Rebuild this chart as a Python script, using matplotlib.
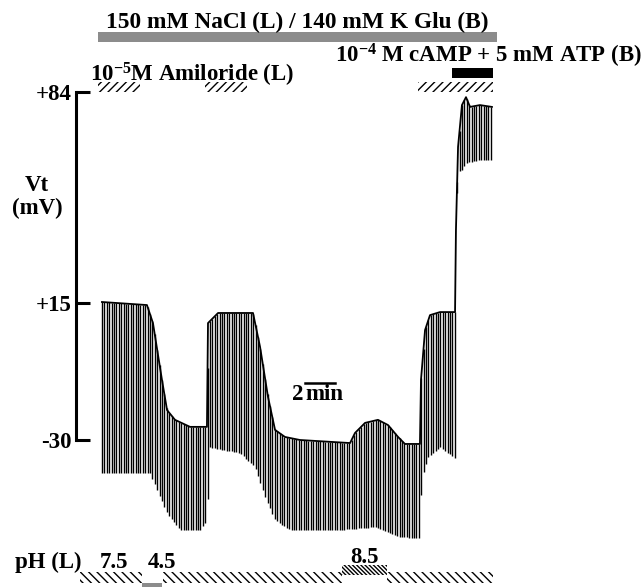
import numpy as np
import matplotlib
matplotlib.use('Agg')
import matplotlib.pyplot as plt

plt.rcParams['font.family'] = 'Liberation Serif'
plt.rcParams['font.weight'] = 'bold'
plt.rcParams['mathtext.fontset'] = 'custom'
plt.rcParams['mathtext.rm'] = 'Liberation Serif:bold'
plt.rcParams['mathtext.bf'] = 'Liberation Serif:bold'
plt.rcParams['hatch.linewidth'] = 1.0

# upper envelope of the Vt trace (time in min, Vt in mV)
t_top = [0.13, 3.13, 3.53, 4.13, 4.47, 5.0, 6.0, 7.13, 7.2, 7.87, 10.2, 10.67,
         11.2, 11.67, 12.33, 13.33, 16.67, 17.0, 17.67, 18.53, 19.2, 19.87,
         20.33, 21.33, 21.4, 21.67, 22.0, 22.67, 23.67, 23.73, 23.87, 24.13,
         24.4, 24.67, 25.33, 26.13]
v_top = [15.2, 14.2, 8.3, -10.3, -20.2, -23.4, -25.7, -25.7, 8.3, 11.6, 11.6, 0.5,
         -15.9, -26.7, -29.0, -30.0, -31.0, -27.7, -24.4, -23.4, -25.1, -29.0,
         -31.3, -31.3, -10.3, 6.0, 10.9, 11.9, 11.9, 38.8, 66.0, 79.7,
         82.3, 79.1, 79.7, 79.1]

# lower ends of the current-pulse deflections
t_bot = [0.13, 3.33, 4.0, 4.47, 5.33, 6.67, 7.13, 7.27, 9.33, 10.33, 11.0, 11.67,
         12.67, 16.0, 18.33, 20.0, 21.27, 21.47, 21.87, 22.67, 23.67, 23.73,
         23.87, 24.0, 24.4, 25.33, 26.13]
v_bot = [-40.8, -40.8, -48.7, -53.9, -59.5, -59.5, -56.2, -32.3, -34.3, -38.8, -48.7, -56.2,
         -59.5, -59.5, -58.5, -61.8, -62.1, -42.1, -35.6, -32.3, -35.9, 38.8,
         60.0, 57.5, 60.7, 61.7, 61.7]

# perfusion periods (min)
nacl_on = (-0.13, 26.47)
amiloride_on = [(-0.13, 2.67), (7.0, 9.8), (21.2, 26.2)]
camp_on = (23.47, 26.2)
ph_periods = [(-1.33, 2.8), (2.8, 4.13), (4.2, 16.13), (16.13, 19.13), (19.13, 26.2)]
ph_values = ['7.5', '4.5', '7.5', '8.5', '7.5']

pulse_dt = 0.16  # min between current pulses

fig = plt.figure(figsize=(6.44, 5.88), dpi=100)
ax = fig.add_axes([0, 0, 1, 1])
ax.set_xlim(-6.667, 36.267)
ax.set_ylim(-78.48, 114.12)

# trace: pulses hanging from the Vt envelope
pulses = np.arange(t_top[0], t_top[-1] + 0.01, pulse_dt)
up = np.interp(pulses, t_top, v_top)
lo = np.interp(pulses, t_bot, v_bot)
ax.vlines(pulses, lo, up, colors='k', lw=1.0)
ax.plot(t_top, v_top, color='k', lw=1.3)

# Vt scale bar = left spine
ax.spines['left'].set_position(('data', -1.6))
ax.spines['left'].set_bounds(-30, 84)
ax.spines['left'].set_linewidth(2.2)
for s in ['top', 'right', 'bottom']:
    ax.spines[s].set_visible(False)
ax.set_yticks([84, 15, -30], ['+84', '+15', '-30'])
ax.tick_params(axis='y', direction='in', length=10, width=2.2, pad=3, labelsize=16.5)
ax.set_xticks([])
ax.text(-4.2, 53.5, 'Vt', ha='center', va='center', fontsize=16.5)
ax.text(-4.2, 46.0, '(mV)', ha='center', va='center', fontsize=16.5)

# time scale bar
ax.text(12.8, -16.9, '2', ha='left', va='baseline', fontsize=16.5)
ax.text(13.67, -16.9, 'min', ha='left', va='baseline', fontsize=16.5)
ax.plot([13.67, 15.67], [-11.3, -11.3], color='k', lw=1.8)

# solution bars
ax.text(13.13, 105.0, '150 mM NaCl (L) / 140 mM K Glu (B)', ha='center',
        va='baseline', fontsize=16.8)
ax.broken_barh([(nacl_on[0], nacl_on[1] - nacl_on[0])], (100.4, 3.2),
               facecolors='#8c8c8c')

ax.text(-0.67, 87.3, r'$\mathbf{10^{-5}}$M Amiloride (L)', ha='left',
        va='baseline', fontsize=16.5)
ax.broken_barh([(a, b - a) for a, b in amiloride_on], (84.0, 3.3),
               facecolors='white', edgecolors='none', hatch='////')

ax.text(15.67, 93.5, r'$\mathbf{10^{-4}}$ M cAMP + 5 mM ATP (B)', ha='left',
        va='baseline', fontsize=16.5)
ax.broken_barh([(camp_on[0], camp_on[1] - camp_on[0])], (88.6, 3.2),
               facecolors='k')

# luminal pH
ax.text(-5.67, -71.9, 'pH (L)', ha='left', va='baseline', fontsize=16.5)
ax.text(0.0, -71.9, '7.5', ha='left', va='baseline', fontsize=16.5)
ax.text(3.2, -71.9, '4.5', ha='left', va='baseline', fontsize=16.5)
ax.text(16.67, -70.3, '8.5', ha='left', va='baseline', fontsize=16.5)
for (a, b), ph in zip(ph_periods, ph_values):
    if ph == '7.5':
        ax.broken_barh([(a, b - a)], (-76.8, 3.6), facecolors='white',
                       edgecolors='none', hatch='\\\\\\\\')
    elif ph == '4.5':
        ax.broken_barh([(a, b - a)], (-78.1, 1.3), facecolors='#8c8c8c')
    else:
        ax.broken_barh([(a, b - a)], (-74.2, 3.3), facecolors='white',
                       edgecolors='none', hatch='\\\\\\\\\\\\\\\\')

fig.savefig('out.png', dpi=100)
